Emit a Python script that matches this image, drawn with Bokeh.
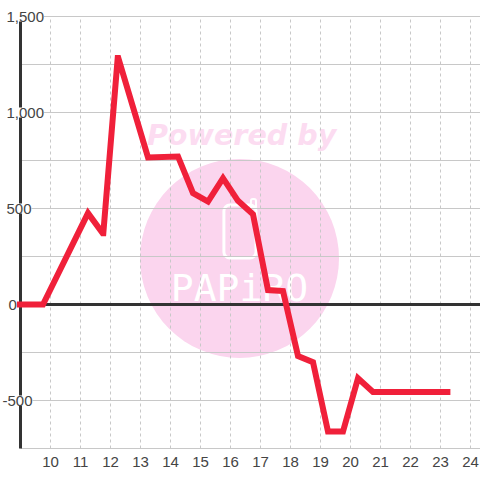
from bokeh.plotting import figure
from bokeh.models import ColumnDataSource, FixedTicker, LabelSet, LinearAxis, Range1d
from bokeh.core.properties import value
from bokeh.embed import file_html
from bokeh.resources import INLINE

# data
hours = [8.88, 9.75, 11.25, 11.74, 11.76, 12.24, 12.26, 12.75, 13.25, 14.25, 14.75, 15.25, 15.75, 16.25,
         16.75, 17.25, 17.75, 18.25, 18.75, 19.25, 19.75, 20.25, 20.75, 23.33]
values = [0, 0, 476, 371, 371, 1284, 1284, 1028, 766, 771, 580, 536, 658, 540,
          470, 75, 70, -268, -300, -662, -662, -384, -456, -456]
x_ticks = list(range(10, 25))
y_grid = [-750, -500, -250, 0, 250, 500, 750, 1000, 1250, 1500]
y_ticks = [-500, 0, 500, 1000, 1500]
y_tick_labels = ["-500", "0", "500", "1,000", "1,500"]

# style
RED = "#f0203a"
DARK = "#333333"
GRID = "#c8c8c8"
TEXT = "#444444"
PINK = "#fbd5ee"
PINK_TEXT = "#fcdcf1"
FONT = "Liberation Sans"

p = figure(width=480, height=472, frame_width=480, frame_height=450,
           x_range=Range1d(9 - 20 / 30, 9 + 460 / 30),
           y_range=Range1d(-750 - 2 / 0.192, 1500 + 16 / 0.192),
           output_backend="svg", toolbar_location=None,
           min_border_left=0, min_border_right=0, min_border_top=0, min_border_bottom=22,
           x_axis_type=None, y_axis_type=None, outline_line_color=None,
           background_fill_color="white", border_fill_color="white")

# watermark
p.scatter([16.3], [240], size=199, marker="circle", fill_color=PINK, line_color=None, level="image")
p.text([16.37], [883], text=["Powered by"], text_font=value("DejaVu Sans"), text_font_style="bold italic",
       text_font_size="28.6px", text_color=PINK_TEXT, text_align="center", text_baseline="middle", level="image")
p.quad(left=[15.78], right=[16.85], top=[518], bottom=[242], border_radius=6, fill_color=None,
       line_color="white", line_width=3, level="image")
p.quad(left=[16.68], right=[16.85], top=[549], bottom=[500], border_radius=2, fill_color=None,
       line_color="white", line_width=2, level="image")
p.text([16.3], [86], text=["PAPiRO"], text_font=value("DejaVu Sans Mono"), text_font_size="38px",
       text_color="white", text_align="center", text_baseline="middle", level="image")

# grid
x_min, x_max = 9, p.x_range.end
p.segment(x0=[x_min] * len(y_grid), x1=[x_max] * len(y_grid), y0=y_grid, y1=y_grid,
          line_color=GRID, line_width=1, level="underlay")
p.segment(x0=x_ticks, x1=x_ticks, y0=[-750] * len(x_ticks), y1=[1500] * len(x_ticks),
          line_color=GRID, line_width=1, line_dash="3 3", level="underlay")

# axes
xaxis = LinearAxis(ticker=FixedTicker(ticks=x_ticks), axis_line_color=None,
                   major_tick_line_color=None, minor_tick_line_color=None,
                   major_label_text_font=FONT, major_label_text_font_size="15px",
                   major_label_text_color=TEXT, major_label_standoff=0)
p.add_layout(xaxis, "below")
yaxis = LinearAxis(ticker=FixedTicker(ticks=[]), fixed_location=9, axis_line_color=DARK, axis_line_width=3,
                   major_tick_line_color=None, minor_tick_line_color=None)
yaxis.bounds = (-750, 1500)
p.add_layout(yaxis, "left")
p.segment(x0=[x_min], x1=[x_max], y0=[0], y1=[0], line_color=DARK, line_width=3, level="guide")

# y labels with a white plate
src = ColumnDataSource(dict(x=[2, 8, 6, 6, 6], y=y_ticks, text=y_tick_labels))
p.add_layout(LabelSet(x="x", y="y", text="text", source=src, x_units="screen", y_units="data",
                      text_font=value(FONT), text_font_size="15px", text_color=TEXT,
                      text_align="left", text_baseline="middle", background_fill_color="white"))

# series
p.line(hours, values, line_color=RED, line_width=6, line_join="miter", line_cap="butt", level="overlay")

open("out.html", "w").write(file_html(p, INLINE))
